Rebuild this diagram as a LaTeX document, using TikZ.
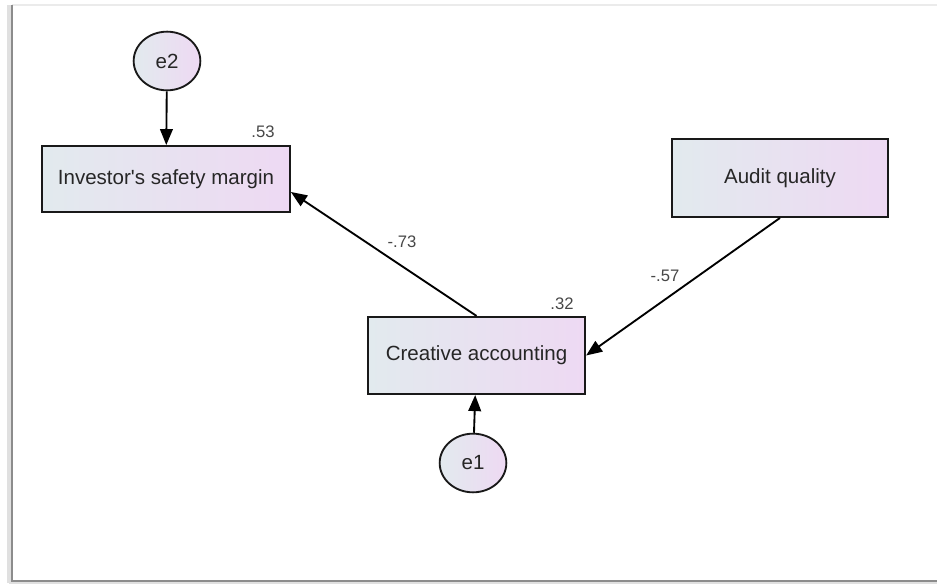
\documentclass[tikz,border=0pt]{standalone}
\usepackage{fontspec}
\setmainfont{Liberation Sans}
\usetikzlibrary{arrows.meta,calc,shapes.geometric}
\definecolor{boxleft}{HTML}{E2EAEE}
\definecolor{boxright}{HTML}{EED9F3}
\definecolor{inkgray}{HTML}{262626}

\begin{document}
\begin{tikzpicture}[x=0.75pt, y=-0.75pt, >={Triangle[length=12pt,width=9.5pt]},
		obs/.style={draw=black!90, line width=1.4pt, left color=boxleft, right color=boxright,
			inner sep=0pt, font=\fontsize{15.4}{18}\selectfont, text=inkgray},
		err/.style={ellipse, draw=black!90, line width=1.4pt, left color=boxleft, right color=boxright,
			minimum width=50pt, minimum height=44pt, inner sep=0pt, font=\fontsize{15.4}{18}\selectfont, text=inkgray},
		coef/.style={font=\fontsize{12.5}{14}\selectfont, text=black!72},
		reg/.style={->, line width=1.4pt, black}]
			\useasboundingbox (0,0) rectangle (937,584);
			% frame with its shadow
			\draw[black!8, line width=1pt] (12,5) -- (937,5);
			\draw[black!12, line width=3pt] (9,5) -- (9,583);
			\draw[black!12, line width=3pt] (9,583) -- (937,583);
			\draw[black!45, line width=1.2pt] (12,5) -- (12,581) -- (937,581);
			% observed variables
			\node[obs, minimum width=186pt, minimum height=49.5pt] (inv) at (166,179) {Investor\textquotesingle s safety margin};
			\node[obs, minimum width=163pt, minimum height=58pt] (cre) at (476.5,355.5) {Creative accounting};
			\node[obs, minimum width=162pt, minimum height=58.5pt] (aud) at (780,178) {Audit quality};
			% error terms
			\node[err] (e2) at (167,61) {e2};
			\node[err] (e1) at (473,463) {e1};
			% paths
			\draw[reg] (e2) -- (inv);
			\draw[reg] (e1) -- (cre);
			\draw[reg] (cre.north) -- ($(inv.east)+(0,13)$);
			\draw[reg] (aud.south) -- (cre.east);
			% estimates
			\node[coef] (r53) at (263,132) {.53};
			\node[coef] (r32) at (562,304) {.32};
			\node[coef] (b73) at (402,242) {-.73};
			\node[coef] (b57) at (665,276) {-.57};
		\end{tikzpicture}
\end{document}
